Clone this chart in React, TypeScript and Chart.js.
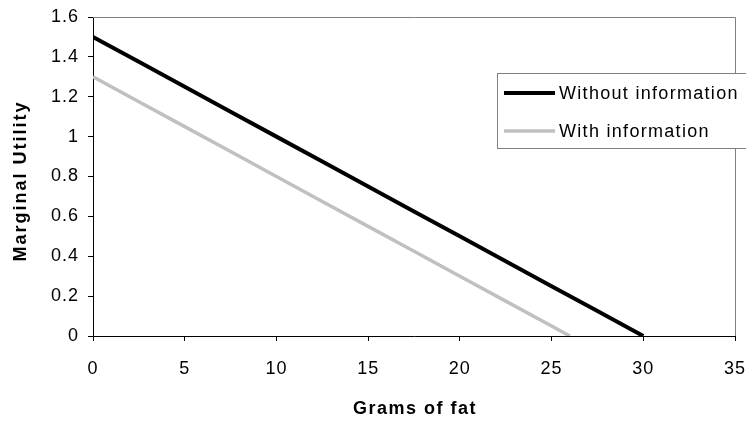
import React, { useEffect, useRef } from "react";
import { Chart, registerables } from "chart.js";

Chart.register(...registerables);

const gramsWithout = [0, 2.5, 5, 7.5, 10, 12.5, 15, 17.5, 20, 22.5, 25, 27.5, 30];
const utilityWithout = [1.5, 1.375, 1.25, 1.125, 1.0, 0.875, 0.75, 0.625, 0.5, 0.375, 0.25, 0.125, 0];
const gramsWith = [0, 2.5, 5, 7.5, 10, 12.5, 15, 17.5, 20, 22.5, 25, 26];
const utilityWith = [1.3, 1.175, 1.05, 0.925, 0.8, 0.675, 0.55, 0.425, 0.3, 0.175, 0.05, 0];
const seriesNames = ["Without information", "With information"];
const xTitle = "Grams of fat";
const yTitle = "Marginal Utility";

const FONT = "'Liberation Sans', Arial, sans-serif";

const extras = {
  id: "extras",
  beforeLayout(chart: any) {
    chart.ctx.letterSpacing = "1px";
  },
  beforeDraw(chart: any) {
    chart.ctx.letterSpacing = "1px";
  },
  afterDraw(chart: any) {
    const ctx = chart.ctx;
    const a = chart.chartArea;
    ctx.save();
    // top and right plot border
    ctx.strokeStyle = "#808080";
    ctx.lineWidth = 1;
    ctx.beginPath();
    ctx.moveTo(a.left, a.top + 0.5);
    ctx.lineTo(a.right + 0.5, a.top + 0.5);
    ctx.lineTo(a.right + 0.5, a.bottom);
    ctx.stroke();

    // axis titles
    ctx.fillStyle = "#000";
    ctx.font = `bold 18px ${FONT}`;
    ctx.letterSpacing = "1.5px";
    ctx.textAlign = "center";
    ctx.textBaseline = "middle";
    ctx.fillText(xTitle, (a.left + a.right) / 2 + 1, 409);
    ctx.letterSpacing = "2px";
    ctx.save();
    ctx.translate(21, 181);
    ctx.rotate(-Math.PI / 2);
    ctx.fillText(yTitle, 0, 0);
    ctx.restore();

    // legend
    const lx = 497.5, ly = 73.5, lw = 260, lh = 75;
    ctx.fillStyle = "#fff";
    ctx.fillRect(lx, ly, lw, lh);
    ctx.strokeStyle = "#808080";
    ctx.lineWidth = 1;
    ctx.strokeRect(lx, ly, lw, lh);
    const colors = ["#000000", "#c0c0c0"];
    const widths = [4, 3.5];
    const ys = [93, 131];
    ctx.font = `18px ${FONT}`;
    ctx.letterSpacing = "1.3px";
    ctx.textAlign = "left";
    for (let i = 0; i < 2; i++) {
      ctx.strokeStyle = colors[i];
      ctx.lineWidth = widths[i];
      ctx.beginPath();
      ctx.moveTo(504, ys[i]);
      ctx.lineTo(555, ys[i]);
      ctx.stroke();
      ctx.fillStyle = "#000";
      ctx.fillText(seriesNames[i], 559, ys[i] + 1);
    }
    ctx.restore();
  },
};

export default function App() {
  const ref = useRef<HTMLCanvasElement>(null);
  useEffect(() => {
    if (!ref.current) return;
    const chart = new Chart(ref.current, {
      type: "line",
      data: {
        datasets: [
          {
            label: seriesNames[0],
            data: gramsWithout.map((x, i) => ({ x, y: utilityWithout[i] })),
            borderColor: "#000000",
            borderWidth: 4,
            pointRadius: 0,
            tension: 0,
          },
          {
            label: seriesNames[1],
            data: gramsWith.map((x, i) => ({ x, y: utilityWith[i] })),
            borderColor: "#c0c0c0",
            borderWidth: 3.5,
            pointRadius: 0,
            tension: 0,
          },
        ],
      },
      options: {
        responsive: false,
        animation: false,
        devicePixelRatio: 1,
        layout: { padding: { top: 17, right: 11, left: 0, bottom: 0 } },
        plugins: { legend: { display: false }, tooltip: { enabled: false } },
        scales: {
          x: {
            type: "linear",
            min: 0,
            max: 35,
            ticks: {
              stepSize: 5,
              color: "#000",
              font: { family: FONT, size: 18 },
              padding: 17,
              maxRotation: 0,
            },
            grid: { drawOnChartArea: false, drawTicks: true, tickLength: 5, color: "#000" },
            border: { color: "#000", width: 1 },
            afterFit(scale: any) {
              scale.height = 89;
              scale.paddingLeft = 0;
              scale.paddingRight = 0;
            },
          },
          y: {
            type: "linear",
            min: 0,
            max: 1.6,
            ticks: {
              stepSize: 0.2,
              color: "#000",
              font: { family: FONT, size: 18 },
              padding: 9,
              callback: (v: any) => String(Number(Number(v).toFixed(1))),
            },
            grid: { drawOnChartArea: false, drawTicks: true, tickLength: 5, color: "#000" },
            border: { color: "#000", width: 1 },
            afterFit(scale: any) {
              scale.width = 93;
              scale.paddingTop = 0;
              scale.paddingBottom = 0;
            },
          },
        },
      },
      plugins: [extras],
    });
    return () => chart.destroy();
  }, []);
  return (
    <div style={{ position: "fixed", left: 0, top: 0, width: 746, height: 425, background: "#fff" }}>
      <canvas ref={ref} width={746} height={425} />
    </div>
  );
}
